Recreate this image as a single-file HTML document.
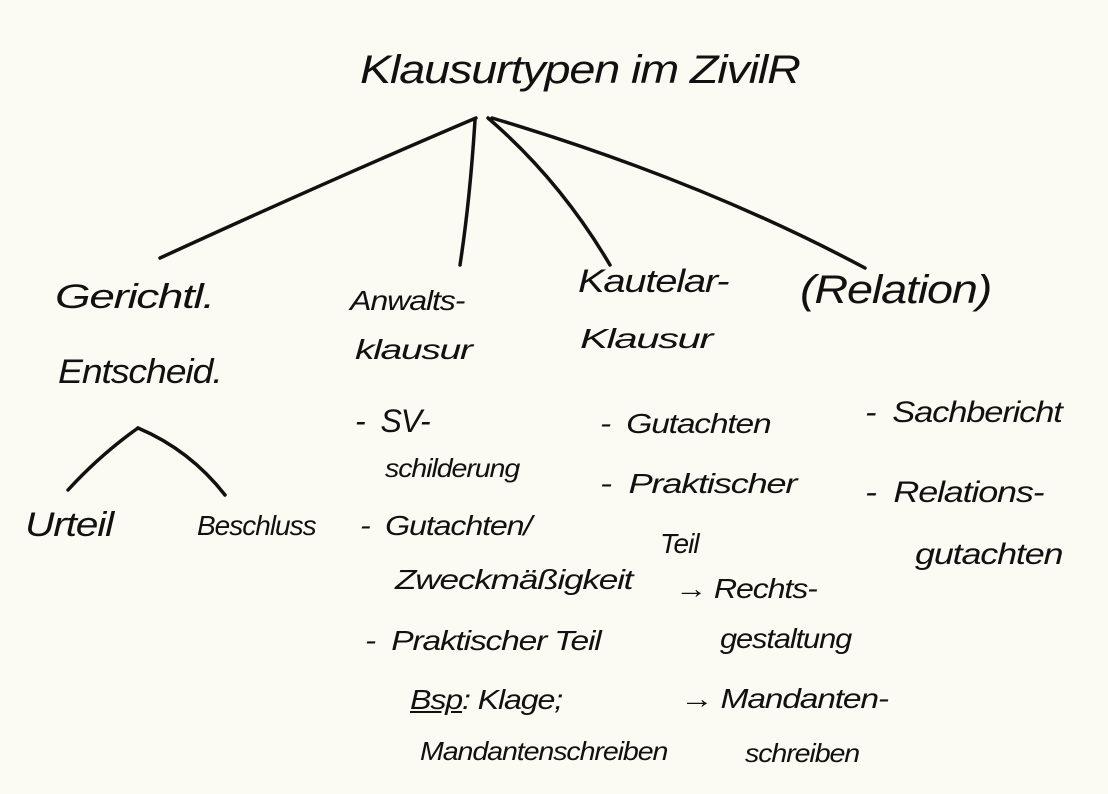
<!DOCTYPE html>
<html><head><meta charset="utf-8"><style>
html,body{margin:0;padding:0}
body{width:1108px;height:794px;background:#fbfaf3;position:relative;overflow:hidden;font-family:"Liberation Sans",sans-serif;font-style:italic;color:#111}
.t{position:absolute;white-space:nowrap;font-size:32px;line-height:1;letter-spacing:-1px;transform-origin:left top}
svg{position:absolute;left:0;top:0}
</style></head><body>
<svg width="1108" height="794" fill="none" stroke="#111" stroke-width="3.5" stroke-linecap="round">
<path d="M476 118 Q330 180 160 258"/>
<path d="M475 120 Q470 200 460 265"/>
<path d="M488 118 Q560 180 610 265"/>
<path d="M492 118 Q700 180 865 268"/>
<path d="M138 428 Q100 455 68 490"/>
<path d="M138 428 Q190 450 225 495"/>
</svg>
<div class="t" style="left:360px;top:50px;font-size:40px;transform:scaleX(1.17)">Klausurtypen im ZivilR</div>
<div class="t" style="left:55px;top:280px;font-size:34px;transform:scaleX(1.35)">Gerichtl.</div>
<div class="t" style="left:58px;top:355px;font-size:34px;transform:scaleX(1.1)">Entscheid.</div>
<div class="t" style="left:25px;top:508px;font-size:34px;transform:scaleX(1.2)">Urteil</div>
<div class="t" style="left:197px;top:512px;font-size:28px">Beschluss</div>
<div class="t" style="left:350px;top:287px;font-size:28px;transform:scaleX(1.15)">Anwalts-</div>
<div class="t" style="left:355px;top:336px;font-size:28px;transform:scaleX(1.4)">klausur</div>
<div class="t" style="left:355px;top:405px">-&nbsp;&nbsp;SV-</div>
<div class="t" style="left:385px;top:455px;font-size:26px;transform:scaleX(1.1)">schilderung</div>
<div class="t" style="left:360px;top:512px;font-size:28px;transform:scaleX(1.15)">-&nbsp;&nbsp;Gutachten/</div>
<div class="t" style="left:395px;top:566px;font-size:28px;transform:scaleX(1.26)">Zweckmäßigkeit</div>
<div class="t" style="left:365px;top:627px;font-size:28px;transform:scaleX(1.2)">-&nbsp;&nbsp;Praktischer Teil</div>
<div class="t" style="left:410px;top:686px;font-size:28px;transform:scaleX(1.15)"><u>Bsp</u>: Klage;</div>
<div class="t" style="left:420px;top:738px;font-size:26px;transform:scaleX(1.1)">Mandantenschreiben</div>
<div class="t" style="left:578px;top:265px;transform:scaleX(1.25)">Kautelar-</div>
<div class="t" style="left:580px;top:325px;font-size:28px;transform:scaleX(1.5)">Klausur</div>
<div class="t" style="left:600px;top:410px;font-size:28px;transform:scaleX(1.2)">-&nbsp;&nbsp;Gutachten</div>
<div class="t" style="left:600px;top:470px;font-size:28px;transform:scaleX(1.3)">-&nbsp;&nbsp;Praktischer</div>
<div class="t" style="left:660px;top:530px;font-size:28px">Teil</div>
<div class="t" style="left:675px;top:575px;font-size:28px;transform:scaleX(1.15)">→ Rechts-</div>
<div class="t" style="left:720px;top:625px;font-size:28px;transform:scaleX(1.1)">gestaltung</div>
<div class="t" style="left:680px;top:685px;font-size:28px;transform:scaleX(1.2)">→ Mandanten-</div>
<div class="t" style="left:745px;top:740px;font-size:26px;transform:scaleX(1.1)">schreiben</div>
<div class="t" style="left:800px;top:270px;font-size:40px;transform:scaleX(1.17)">(Relation)</div>
<div class="t" style="left:865px;top:398px;font-size:30px;transform:scaleX(1.15)">-&nbsp;&nbsp;Sachbericht</div>
<div class="t" style="left:865px;top:478px;font-size:30px;transform:scaleX(1.2)">-&nbsp;&nbsp;Relations-</div>
<div class="t" style="left:915px;top:540px;font-size:30px;transform:scaleX(1.2)">gutachten</div>
</body></html>
